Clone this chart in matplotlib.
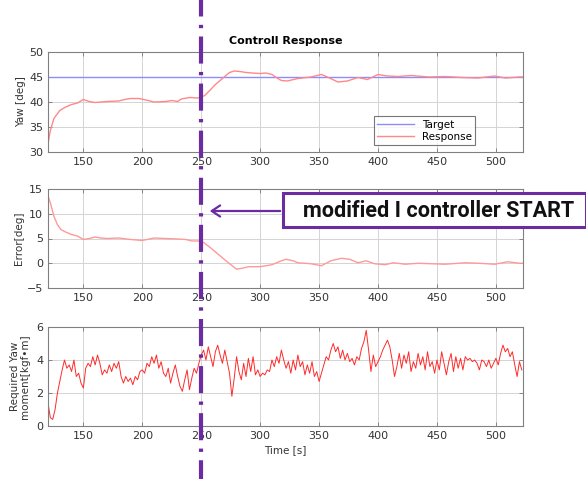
import matplotlib
matplotlib.use("Agg")
import matplotlib.pyplot as plt
from matplotlib.patches import Rectangle, FancyArrowPatch
from matplotlib.transforms import blended_transform_factory

# ---------------- data ----------------
yaw_target = 45.0
yaw_t = [120, 122, 125, 130, 135, 140, 145, 150, 155, 160, 170, 180, 185, 190, 197, 205, 210,
         220, 225, 230, 233, 240, 247, 250, 253, 258, 262, 266, 270, 274, 278, 283, 288, 293,
         300, 305, 310, 315, 318, 323, 332, 343, 352, 357, 366, 374, 383, 391, 400, 408, 417,
         428, 443, 457, 471, 485, 499, 508, 520, 523]
yaw_resp = [31.7, 34.3, 36.7, 38.3, 39.0, 39.5, 39.8, 40.5, 40.1, 39.9, 40.1, 40.2, 40.5, 40.7,
            40.7, 40.3, 40.0, 40.1, 40.3, 40.1, 40.6, 40.9, 40.8, 41.0, 41.3, 42.5, 43.5, 44.3,
            45.1, 45.9, 46.2, 46.1, 45.9, 45.8, 45.7, 45.8, 45.5, 44.7, 44.3, 44.2, 44.7, 45.0,
            45.5, 45.0, 44.0, 44.2, 44.9, 44.5, 45.5, 45.2, 45.1, 45.3, 45.0, 45.1, 44.9, 44.8,
            45.2, 44.8, 45.0, 45.0]

err_t = [120, 122, 125, 128, 131, 135, 140, 145, 150, 155, 160, 165, 170, 180, 190, 200, 210,
         220, 230, 237, 242, 250, 252, 258, 265, 272, 280, 285, 290, 300, 305, 310, 318, 322,
         328, 332, 343, 352, 360, 369, 376, 383, 390, 397, 406, 413, 423, 434, 445, 457, 474,
         485, 499, 510, 520, 523]
err_val = [13.6, 12.2, 9.5, 7.8, 6.8, 6.3, 5.8, 5.5, 4.8, 5.0, 5.3, 5.1, 5.0, 5.1, 4.8, 4.6,
           5.1, 5.0, 4.9, 4.8, 4.5, 4.5, 4.2, 3.1, 1.7, 0.3, -1.2, -1.0, -0.7, -0.7, -0.5, -0.3,
           0.5, 0.8, 0.5, 0.1, -0.1, -0.5, 0.5, 1.0, 0.8, 0.1, 0.5, -0.1, -0.3, 0.1, -0.2, 0.0,
           -0.1, -0.2, 0.1, 0.0, -0.2, 0.3, 0.0, 0.0]

mom_t = list(range(120, 524, 2))
mom_val = [1.4, 0.5, 0.4, 1.0, 2.0, 2.7, 3.4, 4.0, 3.5, 3.7, 3.3, 4.0, 3.0, 3.2, 2.6, 2.3,
           3.5, 3.8, 3.6, 4.2, 3.7, 4.3, 3.8, 3.1, 3.4, 3.2, 3.7, 3.3, 3.8, 3.5, 3.9, 3.0,
           2.6, 3.0, 2.7, 2.9, 2.5, 3.0, 2.8, 3.3, 3.4, 3.2, 3.8, 3.6, 4.2, 3.8, 4.3, 3.5,
           3.9, 3.2, 3.0, 3.5, 2.6, 3.2, 3.7, 3.0, 2.4, 2.1, 2.8, 3.4, 2.2, 2.9, 3.5, 3.2,
           3.8, 4.3, 4.6, 4.0, 4.8, 4.2, 3.6, 4.5, 4.9, 4.3, 3.8, 4.6, 3.9, 3.2, 1.8, 2.9,
           4.2, 3.3, 2.8, 3.8, 3.0, 4.1, 3.3, 4.2, 3.1, 3.4, 3.0, 3.2, 3.1, 3.4, 3.3, 4.0,
           3.6, 4.2, 3.8, 4.6, 4.0, 3.5, 3.9, 3.2, 4.0, 3.4, 4.3, 3.6, 3.9, 3.1, 3.7, 3.2,
           3.9, 3.0, 3.3, 2.7, 3.2, 3.7, 4.2, 4.0, 4.6, 5.0, 4.5, 4.8, 4.1, 4.6, 4.0, 4.4,
           3.9, 4.1, 3.7, 4.2, 4.0, 4.7, 5.1, 5.8, 4.6, 3.3, 4.3, 3.6, 3.9, 4.2, 4.6, 4.9,
           5.2, 4.8, 4.0, 3.0, 3.6, 4.4, 3.5, 4.3, 3.8, 4.5, 3.3, 3.9, 3.5, 4.4, 3.7, 4.2,
           3.4, 4.5, 3.6, 3.9, 3.2, 4.0, 3.4, 4.5, 3.8, 3.1, 3.9, 4.4, 3.3, 4.2, 3.5, 4.1,
           3.4, 4.2, 4.0, 4.1, 3.9, 4.0, 3.8, 3.4, 4.0, 3.9, 3.6, 4.0, 3.5, 3.8, 4.1, 3.7,
           4.4, 4.9, 4.5, 4.7, 4.2, 4.5, 3.7, 3.0, 3.9, 3.4]

xticks = [150, 200, 250, 300, 350, 400, 450, 500]
event_x = 250
title = "Controll Response"
note = "modified I controller START"

# ---------------- figure ----------------
W, H = 586, 479
fig = plt.figure(figsize=(W / 100, H / 100), dpi=100)

def axpos(top, bottom, left=48, right=523):
    return [left / W, 1 - bottom / H, (right - left) / W, (bottom - top) / H]

ax1 = fig.add_axes(axpos(52, 152))
ax2 = fig.add_axes(axpos(189, 288))
ax3 = fig.add_axes(axpos(327, 426))

tick_col = "#333333"
for ax in (ax1, ax2, ax3):
    ax.set_xlim(120, 523)
    ax.set_xticks(xticks)
    ax.grid(True, color="#d4d4d4", linewidth=0.7)
    ax.set_axisbelow(True)
    ax.tick_params(direction="in", top=True, right=True, labelsize=8,
                   colors="#777777", labelcolor=tick_col, length=3, width=0.6)
    for s in ax.spines.values():
        s.set_color("#808080")
        s.set_linewidth(0.8)

ax1.plot([120, 523], [yaw_target, yaw_target], color="#8c8cff", lw=1.0, label="Target")
ax1.plot(yaw_t, yaw_resp, color="#ff8888", lw=1.0, label="Response")
ax1.set_ylim(30, 50)
ax1.set_yticks([30, 35, 40, 45, 50])
ax1.set_ylabel("Yaw [deg]", fontsize=7.5, color=tick_col, labelpad=2)
ax1.set_title(title, fontsize=8, fontweight="bold", pad=6)
leg = ax1.legend(loc="lower right", fontsize=7.5, frameon=True, fancybox=False,
                 borderpad=0.3, handlelength=3.5, labelspacing=0.2,
                 bbox_to_anchor=(0.91, 0.02))
leg.get_frame().set_edgecolor("#555555")
leg.get_frame().set_linewidth(0.8)

ax2.plot(err_t, err_val, color="#ff9999", lw=1.0)
ax2.set_ylim(-5, 15)
ax2.set_yticks([-5, 0, 5, 10, 15])
ax2.set_ylabel("Error[deg]", fontsize=7.5, color=tick_col, labelpad=2)

ax3.plot(mom_t, mom_val, color="#ff2a2a", lw=0.7)
ax3.set_ylim(0, 6)
ax3.set_yticks([0, 2, 4, 6])
ax3.set_ylabel("Required Yaw\nmoment[kgf\u2022m]", fontsize=7.5, color=tick_col,
               labelpad=4, linespacing=1.0)
ax3.set_xlabel("Time [s]", fontsize=7.5, color=tick_col, labelpad=3)

# vertical dash-dot event line across the whole figure
purple = "#6a2ca0"
tr = blended_transform_factory(ax1.transData, fig.transFigure)
vline = plt.Line2D([event_x, event_x], [0, 1], transform=tr, color=purple, lw=3.0,
                   linestyle=(2, (6.5, 2.0, 0.8, 2.0)), clip_on=False, zorder=10)
fig.add_artist(vline)

# annotation box
fig_px = lambda x, y: (x / W, 1 - y / H)
bx0, by0 = fig_px(283, 227)
bx1, by1 = fig_px(586, 193)
rect = Rectangle((bx0, by0), bx1 - bx0, by1 - by0, transform=fig.transFigure,
                 facecolor="white", edgecolor=purple, lw=2.2, zorder=11, clip_on=False)
fig.add_artist(rect)
fig.text((303 + 575) / 2 / W, 1 - 211 / H, note, fontsize=15.6, fontweight="bold",
         family=["Roboto", "DejaVu Sans"], ha="center", va="center", zorder=12,
         color="#111111")

# arrow pointing at event line
arr = FancyArrowPatch(fig_px(283, 211), fig_px(207, 211), transform=fig.transFigure,
                      arrowstyle="->,head_length=6,head_width=4", color=purple,
                      lw=1.6, zorder=11)
fig.add_artist(arr)

fig.savefig("out.png", dpi=100)
